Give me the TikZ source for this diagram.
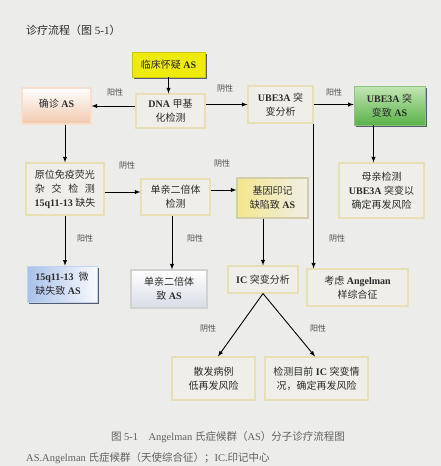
\documentclass[tikz,border=0pt]{standalone}
\usepackage{fontspec}
\setmainfont{Liberation Serif}
\newfontfamily\cjk{Noto Sans CJK SC}
\usetikzlibrary{shadows}

\definecolor{bg}{HTML}{ECECEA}
\definecolor{ink}{HTML}{2B2B2B}
\definecolor{edge}{HTML}{E8E0B4}
\definecolor{boxfill}{HTML}{EFEEE8}
\definecolor{suspyellow}{HTML}{EEEA0C}
\definecolor{greenlight}{HTML}{C4E6B4}
\definecolor{greendark}{HTML}{5AB24A}
\definecolor{greenedge}{HTML}{8CC47A}
\definecolor{peach}{HTML}{F2C8AC}
\definecolor{bluelight}{HTML}{A8C0EA}
\definecolor{icdyellow}{HTML}{F4E68C}
\definecolor{grayblue}{HTML}{D8DCE6}
\definecolor{shade}{HTML}{3C4258}

\newcommand\zh[1]{{\cjk #1}}

\begin{document}
\begin{tikzpicture}[x=1pt,y=-1pt,>=latex]
        \tikzstyle{every node}=[inner sep=1pt, align=center, text=ink, font=\fontsize{10}{14}\selectfont]
        \tikzstyle{box}=[draw=edge, fill=boxfill, line width=1.1pt]
        \tikzstyle{shadowed}=[drop shadow={shadow xshift=2pt, shadow yshift=-2pt, fill=shade, opacity=0.85}]
        \tikzstyle{lbl}=[font=\fontsize{8}{9}\selectfont, text=ink!85]
        \tikzstyle{arr}=[->, line width=0.9pt, black]
        \useasboundingbox (0,0) rectangle (441,466);
        \fill[bg] (0,0) rectangle (441,466);
        \node[anchor=west, font=\fontsize{11}{13}\selectfont] (title) at (25,30) {\zh{诊疗流程（图} 5-1\zh{）}};
        % first row
        \node[box, shadowed, draw=suspyellow!85!black, line width=0.5pt, fill=suspyellow, minimum width=73pt, minimum height=25pt] (susp) at (168.5,64.5) {\zh{临床怀疑} \textbf{AS}};
        \node[box, minimum width=69pt, minimum height=34pt] (dna) at (170.5,111) {\textbf{DNA} \zh{甲基}\\\zh{化检测}};
        \node[box, draw=peach!60!white, top color=white, bottom color=peach, minimum width=69pt, minimum height=36pt] (conf) at (56.5,106) {\raisebox{6pt}{\zh{确诊} \textbf{AS}}};
        \node[box, minimum width=65pt, minimum height=37pt] (ube) at (280.5,104.5) {\textbf{UBE3A} \zh{突}\\\zh{变分析}};
        \node[box, shadowed, draw=greenedge, line width=0.6pt, top color=greenlight, bottom color=greendark, minimum width=71pt, minimum height=39pt] (ubeas) at (389.5,105.5) {\textbf{UBE3A} \zh{突}\\\zh{变致} \textbf{AS}};
        % second row
        \node[box, minimum width=78pt, minimum height=52pt] (fish) at (65,189) {\zh{原位免疫荧光}\\\makebox[60pt][s]{\zh{杂}\hfill\zh{交}\hfill\zh{检}\hfill\zh{测}}\\\textbf{15q11-13} \zh{缺失}};
        \node[box, minimum width=69pt, minimum height=36pt] (upd) at (175.5,197) {\zh{单亲二倍体}\\\zh{检测}};
        \node[box, draw=edge!80!gray, left color=icdyellow, right color=boxfill, minimum width=71pt, minimum height=40pt] (icd) at (272.5,198) {\zh{基因印记}\\\zh{缺陷致} \textbf{AS}};
        \node[box, minimum width=85pt, minimum height=55pt] (mom) at (381.5,190.5) {\zh{母亲检测}\\\textbf{UBE3A} \zh{突变以}\\\zh{确定再发风险}};
        % third row
        \node[box, shadowed, draw=bluelight!70!white, line width=0.6pt, left color=bluelight, right color=white!92!bluelight, align=left, minimum width=70pt, minimum height=36pt] (del) at (62,284) {\textbf{15q11-13}\ \ \zh{微}\\\zh{缺失致} \textbf{AS}};
        \node[box, draw=gray!35, top color=white, bottom color=grayblue, minimum width=76pt, minimum height=38pt] (updas) at (169,289) {\zh{单亲二倍体}\\\zh{致} \textbf{AS}};
        \node[box, minimum width=70pt, minimum height=27pt] (ica) at (263,279.5) {\textbf{IC} \zh{突变分析}};
        \node[box, minimum width=101pt, minimum height=37pt] (likeas) at (357.5,287.5) {\zh{考虑} \textbf{Angelman}\\\zh{样综合征}};
        % bottom row
        \node[box, minimum width=83pt, minimum height=43pt] (spor) at (213.5,378.5) {\zh{散发病例}\\\zh{低再发风险}};
        \node[box, minimum width=103pt, minimum height=43pt] (recur) at (316.5,378.5) {\zh{检测目前} \textbf{IC} \zh{突变情}\\\zh{况，确定再发风险}};
        % connectors
        \draw[arr] (susp.south) -- (susp.south |- dna.north);
        \draw[arr] (dna.west |- conf) -- (conf.east);
        \draw[arr] (dna.east |- ube) -- (ube.west);
        \draw[arr] (ube.east) -- (ube.east -| ubeas.west);
        \draw[arr] (fish.north |- conf.south) -- (fish.north);
        \draw[arr] (ube.south east) -- (ube.south east |- likeas.north);
        \draw[arr] ([xshift=-16pt]ubeas.south) -- ([xshift=-16pt]ubeas.south |- mom.north);
        \draw[arr] ([yshift=-3pt]fish.east) -- ([yshift=-3pt]fish.east -| upd.west);
        \draw[arr] ([yshift=7pt]upd.east) -- ([yshift=7pt]upd.east -| icd.west);
        \draw[arr] (fish.south) -- (fish.south |- del.north);
        \draw[arr] ([xshift=-3.5pt]upd.south) -- ([xshift=-3.5pt]upd.south |- updas.north);
        \draw[arr] (ica.north |- icd.south) -- (ica.north);
        \draw[arr] (ica.south) -- ([xshift=4.5pt]spor.north);
        \draw[arr] (ica.south) -- ([xshift=-1.5pt]recur.north);
        % labels
        \node[lbl] (l1) at (115,92) {\zh{阳性}};
        \node[lbl] (l2) at (225,88) {\zh{阴性}};
        \node[lbl] (l3) at (334,92) {\zh{阳性}};
        \node[lbl] (l4) at (127,165) {\zh{阴性}};
        \node[lbl] (l5) at (222,163) {\zh{阴性}};
        \node[lbl] (l6) at (85,238) {\zh{阳性}};
        \node[lbl] (l7) at (195,238) {\zh{阳性}};
        \node[lbl] (l8) at (337,238) {\zh{阴性}};
        \node[lbl] (l9) at (208,328) {\zh{阴性}};
        \node[lbl] (l10) at (318,328) {\zh{阳性}};
        % caption
        \node[text=ink!75, font=\fontsize{10.5}{12}\selectfont] (cap) at (228,437) {\zh{图} 5-1\quad Angelman \zh{氏症候群（}AS\zh{）分子诊疗流程图}};
        \node[anchor=west, text=ink!75, font=\fontsize{10.5}{12}\selectfont] (foot) at (25,458) {AS.Angelman \zh{氏症候群（天使综合征）；}IC.\zh{印记中心}};
\end{tikzpicture}
\end{document}
